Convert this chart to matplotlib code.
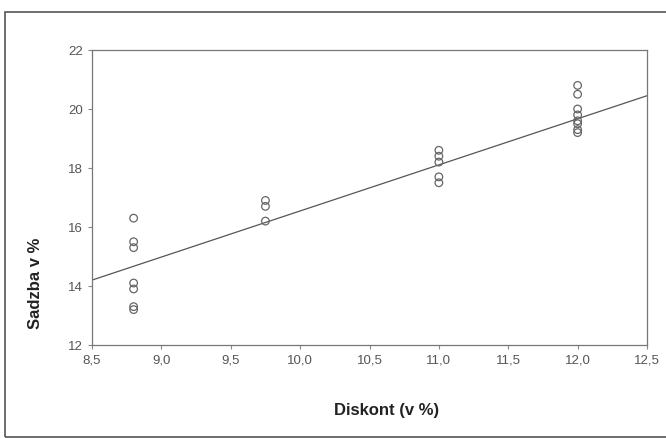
import numpy as np
import matplotlib
matplotlib.use('Agg')
import matplotlib.pyplot as plt
from matplotlib.patches import Rectangle
from matplotlib.ticker import FuncFormatter

plt.rcParams['font.family'] = ['Liberation Sans', 'DejaVu Sans']

# Diskont (x) a sadzba (y) odčítané z grafu
diskont = [8.8] * 7 + [9.75] * 3 + [11.0] * 5 + [12.0] * 8
sadzba = [16.3, 15.5, 15.3, 14.1, 13.9, 13.3, 13.2,
          16.9, 16.7, 16.2,
          18.6, 18.4, 18.2, 17.7, 17.5,
          20.8, 20.5, 20.0, 19.8, 19.6, 19.5, 19.3, 19.2]
# regresná priamka (koncové body odčítané z grafu)
fit_x = [8.5, 12.5]
fit_y = [14.2, 20.45]
x_ticks = [8.5, 9.0, 9.5, 10.0, 10.5, 11.0, 11.5, 12.0, 12.5]
y_ticks = [12, 14, 16, 18, 20, 22]

fig = plt.figure(figsize=(6.66, 4.38), dpi=100)
fig.patches.append(Rectangle((5 / 666, 1 / 438), 1.0, 425 / 438, transform=fig.transFigure,
                             fill=False, edgecolor='#555555', linewidth=1.2))
ax = fig.add_axes([92 / 666, 1 - 345 / 438, 555 / 666, 295 / 438])

ax.plot(fit_x, fit_y, color='#555555', lw=0.9)
ax.scatter(diskont, sadzba, s=30, facecolors='none', edgecolors='#666666', linewidths=0.9, zorder=3)

ax.set_xlim(8.5, 12.5)
ax.set_ylim(12, 22)
ax.set_xticks(x_ticks)
ax.set_yticks(y_ticks)
ax.xaxis.set_major_formatter(FuncFormatter(lambda v, p: f'{v:.1f}'.replace('.', ',')))
ax.tick_params(labelsize=9.5, labelcolor='#555555', color='#888888', length=3)
for s in ax.spines.values():
    s.set_color('#777777')
    s.set_linewidth(0.9)

ax.set_xlabel('Diskont (v %)', fontsize=12, fontweight='bold', color='#222222')
ax.set_ylabel('Sadzba v %', fontsize=12, fontweight='bold', color='#222222')
ax.xaxis.set_label_coords(0.531, -0.198)
ax.yaxis.set_label_coords(-0.088, 0.21)

fig.savefig('out.png', dpi=100)
